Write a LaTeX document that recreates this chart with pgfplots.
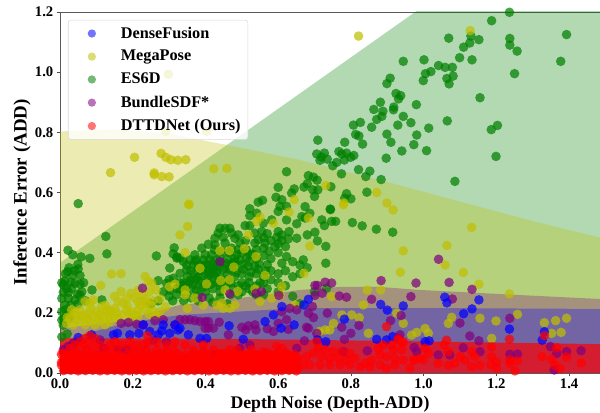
\documentclass[border=0pt]{standalone}
\usepackage{fontspec}
\setmainfont{Liberation Serif}
\usepackage{pgfplots}
\pgfplotsset{compat=1.18}
\definecolor{cG}{HTML}{008000}
\definecolor{cY}{HTML}{BFBF00}
\definecolor{cP}{HTML}{800080}
\definecolor{cB}{HTML}{0000FF}
\definecolor{cR}{HTML}{FF0000}
\pgfplotsset{
 pts/.style={only marks,mark=*,mark size=3.6pt,mark options={draw opacity=0,fill=#1,fill opacity=0.72},forget plot},
 band/.style={draw=none,fill=#1,forget plot},
 leg/.style={only marks,mark=*,mark size=3.1pt,mark options={draw opacity=0,fill=#1,fill opacity=0.55}},
}
\begin{document}
\begin{tikzpicture}
\path[use as bounding box] (-45pt,-30pt) rectangle (405pt,279.75pt);
\begin{axis}[
 scale only axis,width=405pt,height=270.75pt,
 xmin=0,xmax=1.485,ymin=0,ymax=1.2,
 xtick={0,0.2,0.4,0.6,0.8,1.0,1.2,1.4},
 ytick={0,0.2,0.4,0.6,0.8,1.0,1.2},
 xtick pos=lower,ytick pos=left,tick align=outside,
 major tick length=2.5pt,
 tick style={color=black!70,line width=0.5pt},
 axis line style={color=black!65,line width=0.7pt},
 /pgf/number format/assume math mode=true,
 /pgf/number format/fixed,/pgf/number format/fixed zerofill,/pgf/number format/precision=1,
 tick label style={font=\fontsize{11}{13}\selectfont\bfseries},
 xticklabel style={yshift=1.5pt},
 yticklabel style={xshift=1pt},
 xlabel={Depth Noise (Depth-ADD)},
 ylabel={Inference Error (ADD)},
 xlabel style={font=\fontsize{13.3}{15}\selectfont\bfseries,at={(0.5,0)},anchor=north,yshift=-14pt},
 ylabel style={font=\fontsize{14.2}{16}\selectfont\bfseries,at={(0,0.5)},anchor=south,yshift=18.5pt},
 legend cell align=left,
 legend image code/.code={\path (0pt,0pt) (28pt,0pt);\draw[mark repeat=2,mark phase=2,#1] plot coordinates {(0pt,0pt)(14pt,0pt)(28pt,0pt)};},
 legend style={at={(0.0148,0.978)},anchor=north west,
   font=\fontsize{12.2}{14}\selectfont\bfseries,
   draw=black!15,rounded corners=2pt,fill=white,fill opacity=0.8,text opacity=1,draw opacity=1,
   row sep=3.6pt,inner xsep=3.5pt,inner ysep=3pt,
   /tikz/every odd column/.append style={column sep=5.5pt}},
]
\addlegendimage{leg=cB}\addlegendentry{DenseFusion}
\addlegendimage{leg=cY}\addlegendentry{MegaPose}
\addlegendimage{leg=cG}\addlegendentry{ES6D}
\addlegendimage{leg=cP}\addlegendentry{BundleSDF*}
\addlegendimage{leg=cR}\addlegendentry{DTTDNet (Ours)}

% ES6D band
\addplot[band=cG,fill opacity=0.3] coordinates {(0,0) (0,0.366) (1.485,1.634) (1.485,0)} -- cycle;
% ES6D
\addplot[pts=cG] coordinates {
(1.236,1.199)(1.187,1.171)(1.393,1.125)(1.069,1.113)(1.130,1.120)(1.152,1.108)(1.127,1.097)(1.110,1.083)(1.237,1.112)(1.237,1.090)(1.257,1.070)(1.377,1.036)(1.133,1.041)(1.099,1.048)(1.001,1.041)(0.944,1.036)(1.250,0.995)(1.041,1.022)(1.059,1.016)(1.079,1.016)(1.020,1.002)(1.005,0.995)(0.999,0.972)(1.064,0.979)(1.081,0.987)(1.070,0.961)(0.908,0.980)(0.899,0.962)(1.155,0.915)(0.924,0.929)(0.937,0.922)(0.931,0.911)(0.881,0.900)(0.863,0.876)(0.888,0.870)(0.918,0.884)(0.917,0.875)(0.980,0.892)(0.885,0.853)(0.871,0.843)(0.944,0.853)(0.965,0.832)(0.929,0.824)(1.065,0.838)(1.014,0.814)(1.203,0.823)(1.186,0.809)(0.826,0.833)(0.807,0.824)(0.857,0.817)(0.813,0.793)(0.822,0.788)(0.899,0.794)(0.981,0.791)(0.709,0.774)(0.783,0.767)(0.832,0.761)(0.910,0.767)(0.973,0.759)(0.767,0.736)(0.706,0.728)(0.727,0.731)(0.775,0.728)(0.788,0.731)(0.808,0.723)(0.799,0.717)(0.940,0.738)(1.008,0.739)(0.897,0.714)(1.199,0.720)(0.719,0.718)(0.715,0.707)(0.735,0.711)(0.782,0.708)(0.761,0.700)(0.750,0.689)(0.821,0.676)(0.852,0.671)(0.841,0.653)(0.883,0.643)(1.086,0.637)(0.774,0.662)(0.745,0.619)(0.683,0.656)(0.697,0.651)(0.707,0.641)(0.680,0.629)(0.671,0.618)(0.695,0.609)(0.709,0.609)(0.700,0.587)(0.788,0.596)(0.783,0.581)(0.800,0.579)(0.844,0.601)(0.743,0.545)(0.674,0.553)
(0.744,0.543)(0.720,0.509)(0.727,0.490)(0.747,0.504)(0.758,0.504)(0.804,0.500)(0.831,0.489)(0.870,0.478)(0.915,0.468)(0.701,0.468)(0.680,0.459)(0.708,0.439)(0.731,0.421)(0.731,0.365)(0.669,0.376)(0.660,0.359)(0.687,0.531)(0.674,0.515)(0.665,0.520)
(0.623,0.669)(0.600,0.617)(0.644,0.612)(0.637,0.598)(0.594,0.584)(0.610,0.576)(0.545,0.568)(0.557,0.574)(0.522,0.546)(0.605,0.554)(0.623,0.554)(0.600,0.537)(0.522,0.523)(0.541,0.531)(0.582,0.509)(0.623,0.509)(0.651,0.496)(0.509,0.490)(0.522,0.490)(0.559,0.498)(0.440,0.481)(0.467,0.481)(0.454,0.481)(0.435,0.465)(0.472,0.465)(0.490,0.459)(0.536,0.465)(0.555,0.470)(0.570,0.463)(0.600,0.470)(0.610,0.459)(0.596,0.451)(0.628,0.446)(0.651,0.448)(0.426,0.448)(0.449,0.451)(0.481,0.448)(0.545,0.443)(0.564,0.432)(0.408,0.428)(0.426,0.426)(0.454,0.432)(0.495,0.432)(0.536,0.432)(0.591,0.420)(0.390,0.415)(0.472,0.415)(0.513,0.409)(0.522,0.393)(0.513,0.382)(0.623,0.387)(0.371,0.393)(0.399,0.393)(0.417,0.393)(0.440,0.387)(0.486,0.393)(0.357,0.376)(0.376,0.376)(0.394,0.376)(0.412,0.376)(0.431,0.376)(0.348,0.359)(0.367,0.359)(0.385,0.359)(0.408,0.359)(0.463,0.359)(0.481,0.370)(0.518,0.354)(0.548,0.363)(0.536,0.354)(0.330,0.382)(0.422,0.348)
(0.022,0.408)(0.035,0.393)(0.058,0.386)(0.082,0.381)(0.126,0.454)(0.129,0.396)(0.049,0.361)(0.050,0.346)(0.025,0.350)(0.021,0.337)(0.055,0.324)(0.014,0.306)(0.030,0.302)(0.041,0.298)(0.055,0.295)(0.009,0.293)(0.018,0.281)(0.032,0.281)(0.009,0.268)(0.023,0.268)(0.048,0.262)(0.055,0.259)(0.088,0.276)(0.115,0.243)(0.005,0.248)(0.023,0.248)(0.041,0.243)(0.014,0.226)(0.005,0.204)(0.018,0.187)(0.005,0.176)(0.027,0.182)(0.009,0.159)(0.050,0.563)
(0.265,0.389)(0.314,0.416)(0.311,0.396)(0.322,0.386)(0.270,0.307)(0.321,0.382)(0.339,0.371)(0.302,0.349)(0.293,0.298)(0.312,0.315)(0.330,0.331)(0.348,0.343)(0.371,0.371)(0.284,0.270)(0.302,0.276)(0.321,0.281)(0.339,0.293)(0.357,0.304)(0.376,0.315)(0.394,0.352)
(0.300,0.255)(0.320,0.260)(0.340,0.270)(0.360,0.280)(0.380,0.290)(0.400,0.300)(0.420,0.310)(0.440,0.320)(0.460,0.330)(0.330,0.300)(0.350,0.320)(0.370,0.330)(0.390,0.340)(0.410,0.330)(0.430,0.335)(0.450,0.345)(0.480,0.350)(0.500,0.330)(0.520,0.320)(0.540,0.330)(0.560,0.320)(0.580,0.340)(0.360,0.250)(0.380,0.260)(0.400,0.270)(0.420,0.280)(0.440,0.290)(0.470,0.300)(0.490,0.290)(0.520,0.280)(0.550,0.300)(0.570,0.280)(0.600,0.300)(0.620,0.290)(0.600,0.330)(0.640,0.320)(0.410,0.250)(0.440,0.250)(0.470,0.260)(0.500,0.270)(0.300,0.310)(0.270,0.240)(0.250,0.230)(0.420,0.235)(0.460,0.230)
(0.600,0.270)(0.640,0.255)(0.660,0.230)(0.700,0.270)(0.733,0.282)(0.020,0.130)(0.005,0.120)
(0.340,0.300)(0.360,0.310)(0.380,0.320)(0.400,0.330)(0.420,0.340)(0.440,0.350)(0.460,0.310)(0.480,0.320)(0.500,0.300)(0.520,0.300)(0.540,0.290)(0.560,0.300)(0.360,0.340)(0.380,0.350)(0.400,0.360)(0.420,0.365)(0.440,0.370)(0.460,0.380)(0.480,0.380)(0.500,0.360)(0.540,0.380)(0.560,0.390)(0.580,0.380)(0.600,0.400)(0.570,0.360)(0.610,0.365)(0.640,0.370)(0.500,0.400)(0.540,0.410)(0.580,0.440)(0.620,0.420)(0.330,0.280)(0.310,0.240)(0.340,0.240)(0.380,0.240)(0.440,0.270)(0.490,0.260)(0.540,0.260)(0.560,0.260)(0.580,0.310)(0.620,0.340)(0.660,0.330)(0.680,0.350)
(0.005,0.300)(0.015,0.330)(0.035,0.325)(0.040,0.340)(0.065,0.300)(0.060,0.270)(0.070,0.240)(0.015,0.210)(0.030,0.225)(0.050,0.230)(0.010,0.180)(0.025,0.200)
(0.345,0.285)(0.365,0.295)(0.385,0.305)(0.405,0.315)(0.425,0.325)(0.445,0.305)(0.465,0.345)(0.485,0.335)(0.505,0.345)(0.525,0.335)(0.545,0.345)(0.565,0.340)(0.375,0.275)(0.395,0.285)(0.415,0.295)(0.435,0.300)(0.455,0.290)(0.475,0.280)(0.510,0.290)(0.530,0.270)(0.410,0.345)(0.430,0.355)(0.455,0.365)(0.475,0.365)(0.495,0.375)(0.520,0.370)(0.530,0.395)(0.490,0.410)(0.465,0.400)(0.445,0.405)(0.425,0.410)(0.560,0.415)(0.575,0.405)(0.600,0.430)(0.610,0.440)(0.630,0.470)(0.560,0.450)(0.510,0.440)
};
% MegaPose band
\addplot[band=cY,fill opacity=0.3] coordinates {(0,0) (0,0.803) (0.15,0.81) (0.3,0.795) (0.45,0.76) (0.66,0.708) (0.9,0.635) (1.13,0.56) (1.3,0.505) (1.485,0.45) (1.485,0)} -- cycle;
% MegaPose
\addplot[pts=cY] coordinates {
(0.298,0.993)(0.291,0.803)(0.403,0.803)(0.205,0.717)(0.278,0.730)(0.291,0.717)(0.305,0.709)(0.324,0.707)(0.346,0.709)(0.139,0.666)(0.259,0.665)(0.259,0.659)(0.280,0.653)(0.300,0.652)(0.423,0.679)(0.459,0.680)(0.354,0.561)(0.644,0.576)(0.821,1.120)(1.128,1.138)(0.731,0.623)(0.871,0.600)(0.781,0.565)(0.899,0.565)(0.916,0.542)
(1.132,0.484)(1.064,0.424)(0.944,0.406)(0.687,0.422)(0.671,0.331)(1.059,0.359)(0.936,0.335)(1.109,0.334)(1.152,0.295)(0.683,0.515)(0.779,0.559)
(0.355,0.560)(0.351,0.487)(0.630,0.535)(0.550,0.518)(0.541,0.504)(0.587,0.498)(0.518,0.459)(0.507,0.413)(0.440,0.407)(0.466,0.407)(0.539,0.387)(0.344,0.400)(0.385,0.348)(0.478,0.352)(0.330,0.459)
(0.344,0.276)(0.344,0.260)(0.371,0.249)(0.403,0.296)(0.442,0.307)(0.466,0.310)(0.454,0.276)(0.488,0.271)(0.564,0.324)(0.610,0.288)(0.536,0.279)
(0.350,0.215)(0.394,0.226)(0.431,0.226)(0.445,0.232)(0.449,0.215)(0.481,0.226)(0.550,0.238)(0.467,0.215)(0.646,0.226)(0.582,0.249)(0.605,0.260)
(0.142,0.329)(0.168,0.330)(0.112,0.291)(0.168,0.271)(0.234,0.321)(0.243,0.304)(0.252,0.299)(0.264,0.276)(0.316,0.295)(0.301,0.287)(0.275,0.246)(0.213,0.238)(0.225,0.238)(0.238,0.232)(0.215,0.210)(0.197,0.204)(0.183,0.249)(0.174,0.232)(0.160,0.238)(0.151,0.215)(0.142,0.204)(0.128,0.204)(0.115,0.221)(0.101,0.204)(0.092,0.243)(0.082,0.232)(0.069,0.238)(0.055,0.210)(0.032,0.210)(0.046,0.193)(0.027,0.182)(0.069,0.193)(0.092,0.188)(0.119,0.188)(0.147,0.188)(0.170,0.193)(0.055,0.171)(0.082,0.171)(0.110,0.171)(0.137,0.171)(0.183,0.210)(0.206,0.193)(0.234,0.210)(0.257,0.204)(0.275,0.204)(0.037,0.160)(0.069,0.160)(0.096,0.160)(0.124,0.160)(0.018,0.165)
(0.775,0.193)(0.802,0.193)(0.823,0.184)(0.752,0.165)(0.729,0.143)(0.742,0.143)(0.713,0.138)(0.848,0.132)(0.926,0.199)(0.944,0.165)(0.834,0.226)(0.747,0.254)(0.845,0.276)(0.882,0.276)
(1.077,0.185)(1.068,0.165)(1.155,0.182)(1.199,0.173)(1.258,0.195)(1.332,0.167)(1.363,0.174)(1.393,0.182)(1.378,0.135)(1.352,0.132)(1.187,0.115)(1.004,0.148)(1.013,0.132)(0.981,0.135)(0.967,0.126)(1.236,0.263)
(0.045,0.175)(0.075,0.180)(0.105,0.180)(0.135,0.185)(0.160,0.180)(0.195,0.180)(0.220,0.225)(0.250,0.225)(0.085,0.215)(0.125,0.225)(0.150,0.255)(0.195,0.265)(0.215,0.275)(0.245,0.270)
(0.020,0.185)(0.040,0.200)(0.060,0.190)(0.080,0.200)(0.110,0.195)(0.135,0.210)(0.155,0.200)(0.190,0.195)(0.215,0.190)(0.245,0.195)(0.265,0.190)(0.225,0.260)(0.205,0.250)(0.185,0.225)(0.235,0.245)(0.255,0.240)(0.290,0.220)
};
% BundleSDF band
\addplot[band=cP,fill opacity=0.3] coordinates {(0,0) (0,0.148) (0.156,0.171) (0.33,0.226) (0.42,0.237) (0.66,0.276) (0.77,0.286) (0.88,0.286) (0.99,0.276) (1.25,0.26) (1.485,0.246) (1.485,0)} -- cycle;
% BundleSDF
\addplot[pts=cP] coordinates {
(0.227,0.282)(0.440,0.370)(0.391,0.251)(0.467,0.263)(0.539,0.265)(0.554,0.271)(0.602,0.258)
(0.701,0.291)(0.708,0.291)(0.729,0.302)(0.747,0.299)(0.721,0.265)(0.701,0.258)(0.768,0.256)(0.788,0.252)(0.883,0.307)(0.979,0.299)(0.857,0.245)(0.965,0.254)(0.694,0.221)(0.683,0.199)(0.697,0.184)(0.735,0.199)(0.683,0.149)(0.678,0.152)(0.706,0.132)(0.775,0.152)(0.822,0.158)(0.800,0.132)(0.782,0.112)(0.672,0.107)(0.909,0.174)(0.938,0.191)(0.935,0.127)
(1.041,0.378)(1.070,0.301)(1.133,0.278)(1.079,0.246)(1.237,0.182)(1.100,0.166)(1.127,0.123)(1.152,0.107)(1.349,0.088)(1.366,0.065)(1.393,0.071)(1.433,0.074)(1.237,0.062)(1.258,0.063)(1.109,0.084)(1.155,0.071)(1.040,0.060)(1.072,0.060)(0.974,0.085)(0.981,0.071)(0.845,0.074)(0.779,0.071)(1.359,0.010)
(0.330,0.177)(0.344,0.177)(0.357,0.177)(0.371,0.174)(0.385,0.171)(0.399,0.171)(0.408,0.171)(0.422,0.149)(0.438,0.169)(0.408,0.149)(0.399,0.149)(0.463,0.127)(0.500,0.152)(0.518,0.157)(0.536,0.160)(0.539,0.143)(0.511,0.143)(0.570,0.147)(0.587,0.138)(0.600,0.165)(0.632,0.215)(0.651,0.210)(0.623,0.177)(0.628,0.145)(0.651,0.082)(0.610,0.204)(0.422,0.060)(0.495,0.082)(0.522,0.093)
(0.168,0.165)(0.188,0.168)(0.211,0.162)(0.261,0.174)(0.284,0.177)(0.229,0.160)(0.316,0.160)(0.009,0.077)(0.023,0.088)(0.037,0.099)(0.110,0.110)(0.119,0.082)(0.160,0.077)(0.183,0.077)(0.257,0.110)(0.293,0.104)
};
% DenseFusion band
\addplot[band=cB,fill opacity=0.3] coordinates {(0,0) (0,0.09) (0.037,0.116) (0.1,0.14) (0.183,0.166) (0.33,0.193) (0.66,0.216) (0.99,0.216) (1.485,0.213) (1.485,0)} -- cycle;
% DenseFusion
\addplot[pts=cB] coordinates {
(0.050,0.118)(0.087,0.127)(0.158,0.132)(0.147,0.127)(0.192,0.127)(0.217,0.132)(0.229,0.160)(0.247,0.138)(0.280,0.140)(0.270,0.127)(0.302,0.132)(0.325,0.143)(0.284,0.160)(0.316,0.160)
(0.330,0.149)(0.353,0.127)(0.385,0.115)(0.403,0.115)(0.465,0.157)(0.504,0.112)(0.564,0.171)(0.587,0.193)(0.610,0.221)(0.608,0.149)(0.644,0.160)
(0.671,0.226)(0.683,0.245)(0.782,0.179)(0.708,0.110)(0.731,0.104)(0.882,0.228)(0.900,0.209)(0.944,0.223)(0.871,0.112)(0.898,0.110)(0.915,0.121)(0.930,0.115)
(1.058,0.252)(1.064,0.233)(1.152,0.243)(1.133,0.213)(1.110,0.197)(1.236,0.146)(1.332,0.137)(1.326,0.109)(1.004,0.104)(1.015,0.107)
};
% DTTDNet band
\addplot[band=cR,fill opacity=0.7] coordinates {(0,0) (0,0.116) (0.5,0.113) (1.0,0.105) (1.485,0.096) (1.485,0)} -- cycle;
% DTTDNet
\addplot[pts=cR] coordinates {
(0.069,0.115)(0.082,0.124)(0.096,0.115)(0.055,0.104)(0.110,0.093)(0.041,0.093)(0.027,0.082)(0.137,0.093)(0.151,0.104)(0.192,0.104)(0.211,0.093)(0.240,0.124)(0.243,0.104)(0.266,0.104)(0.293,0.093)(0.316,0.104)(0.170,0.093)(0.229,0.093)(0.192,0.082)(0.087,0.093)(0.064,0.093)(0.128,0.077)(0.156,0.077)(0.266,0.077)(0.312,0.077)(0.009,0.066)(0.046,0.071)(0.073,0.077)(0.101,0.071)(0.211,0.077)(0.238,0.077)(0.293,0.071)
(0.344,0.093)(0.367,0.077)(0.394,0.093)(0.422,0.077)(0.454,0.066)(0.467,0.077)(0.495,0.060)(0.527,0.077)(0.541,0.060)(0.573,0.066)(0.596,0.088)(0.610,0.082)(0.600,0.066)(0.623,0.066)(0.646,0.054)(0.394,0.071)(0.440,0.066)(0.559,0.071)(0.486,0.077)
(0.898,0.154)(0.706,0.104)(0.710,0.082)(0.729,0.077)(0.752,0.071)(0.775,0.071)(0.797,0.066)(0.875,0.082)(0.889,0.093)(0.912,0.093)(0.930,0.115)(0.944,0.104)(0.917,0.077)(0.940,0.077)(0.678,0.054)(0.697,0.066)(0.720,0.054)(0.742,0.049)(0.765,0.049)(0.788,0.043)(0.811,0.049)(0.839,0.032)(0.857,0.043)(0.880,0.060)(0.898,0.054)(0.921,0.049)(0.944,0.043)(0.972,0.043)(0.990,0.049)(0.962,0.016)(0.898,0.016)(0.687,0.027)(0.715,0.027)(0.742,0.027)(0.770,0.027)(0.797,0.027)(0.825,0.021)(0.852,0.021)(0.880,0.027)(0.921,0.027)(0.669,0.027)
(1.004,0.082)(1.013,0.065)(0.976,0.043)(0.999,0.043)(1.040,0.032)(1.063,0.109)(1.056,0.093)(1.068,0.071)(1.068,0.026)(1.086,0.032)(1.100,0.054)(1.114,0.043)(1.132,0.071)(1.141,0.054)(1.132,0.021)(1.155,0.026)(1.187,0.087)(1.187,0.054)(1.201,0.037)(1.184,0.028)(1.201,0.015)(1.236,0.112)(1.237,0.043)(1.237,0.032)(1.258,0.040)(1.251,0.007)(1.332,0.124)(1.366,0.084)(1.326,0.054)(1.352,0.046)(1.393,0.053)(1.433,0.033)(1.361,0.026)(1.375,0.015)(0.930,0.109)(0.940,0.102)
(0.004,0.062)(0.024,0.060)(0.044,0.064)(0.064,0.061)(0.084,0.063)(0.104,0.060)(0.124,0.064)(0.144,0.062)(0.164,0.060)(0.184,0.063)(0.204,0.061)(0.224,0.064)(0.244,0.060)(0.264,0.062)(0.284,0.063)(0.304,0.060)(0.324,0.064)(0.344,0.061)(0.364,0.062)(0.384,0.060)(0.404,0.063)(0.424,0.061)(0.444,0.060)(0.464,0.062)(0.484,0.060)(0.504,0.063)(0.524,0.061)(0.544,0.060)(0.564,0.062)(0.584,0.060)(0.604,0.063)(0.624,0.060)(0.644,0.061)
(0.014,0.052)(0.034,0.053)(0.054,0.051)(0.074,0.052)(0.094,0.053)(0.114,0.051)(0.134,0.052)(0.154,0.053)(0.174,0.051)(0.194,0.052)(0.214,0.053)(0.234,0.051)(0.254,0.052)(0.274,0.053)(0.294,0.051)(0.314,0.052)(0.334,0.053)(0.354,0.051)(0.374,0.052)(0.394,0.053)(0.414,0.051)(0.434,0.052)(0.454,0.053)(0.474,0.051)(0.494,0.052)(0.514,0.053)(0.534,0.051)(0.554,0.052)(0.574,0.053)(0.594,0.051)(0.614,0.052)(0.634,0.053)(0.654,0.051)
(0.010,0.044)(0.030,0.042)(0.050,0.045)(0.070,0.043)(0.090,0.044)(0.110,0.042)(0.130,0.045)(0.150,0.043)(0.170,0.044)(0.190,0.042)(0.210,0.045)(0.230,0.043)(0.250,0.044)(0.270,0.042)(0.290,0.045)(0.310,0.043)(0.330,0.044)(0.350,0.042)(0.370,0.045)(0.390,0.043)(0.410,0.044)(0.430,0.042)(0.450,0.045)(0.470,0.043)(0.490,0.044)(0.510,0.042)(0.530,0.045)(0.550,0.043)(0.570,0.044)(0.590,0.042)(0.610,0.045)(0.630,0.043)(0.650,0.044)
(0.004,0.035)(0.024,0.034)(0.044,0.036)(0.064,0.033)(0.084,0.035)(0.104,0.034)(0.124,0.036)(0.144,0.033)(0.164,0.035)(0.184,0.034)(0.204,0.036)(0.224,0.033)(0.244,0.035)(0.264,0.034)(0.284,0.036)(0.304,0.033)(0.324,0.035)(0.344,0.034)(0.364,0.036)(0.384,0.033)(0.404,0.035)(0.424,0.034)(0.444,0.036)(0.464,0.033)(0.484,0.035)(0.504,0.034)(0.524,0.036)(0.544,0.033)(0.564,0.035)(0.584,0.034)(0.604,0.036)(0.624,0.033)(0.644,0.035)
(0.004,0.026)(0.024,0.025)(0.044,0.027)(0.064,0.024)(0.084,0.026)(0.104,0.025)(0.124,0.027)(0.144,0.024)(0.164,0.026)(0.184,0.025)(0.204,0.027)(0.224,0.024)(0.244,0.026)(0.264,0.025)(0.284,0.027)(0.304,0.024)(0.324,0.026)(0.344,0.025)(0.364,0.027)(0.384,0.024)(0.404,0.026)(0.424,0.025)(0.444,0.027)(0.464,0.024)(0.484,0.026)(0.504,0.025)(0.524,0.027)(0.544,0.024)(0.564,0.026)(0.584,0.025)(0.604,0.027)(0.624,0.024)(0.644,0.026)
(0.014,0.017)(0.034,0.016)(0.054,0.018)(0.074,0.017)(0.094,0.016)(0.114,0.018)(0.134,0.017)(0.154,0.016)(0.174,0.018)(0.194,0.017)(0.214,0.016)(0.234,0.018)(0.254,0.017)(0.274,0.016)(0.294,0.018)(0.314,0.017)(0.334,0.016)(0.354,0.018)(0.374,0.017)(0.394,0.016)(0.414,0.018)(0.434,0.017)(0.454,0.016)(0.474,0.018)(0.494,0.017)(0.514,0.016)(0.534,0.018)(0.554,0.017)(0.574,0.016)(0.594,0.018)(0.614,0.017)(0.634,0.016)(0.654,0.018)
(0.010,0.008)(0.030,0.009)(0.050,0.007)(0.070,0.008)(0.090,0.009)(0.110,0.007)(0.130,0.008)(0.150,0.009)(0.170,0.007)(0.190,0.008)(0.210,0.009)(0.230,0.007)(0.250,0.008)(0.270,0.009)(0.290,0.007)(0.310,0.008)(0.330,0.009)(0.350,0.007)(0.370,0.008)(0.390,0.009)(0.410,0.007)(0.430,0.008)(0.450,0.009)(0.470,0.007)(0.490,0.008)(0.510,0.009)(0.530,0.007)(0.550,0.008)(0.570,0.009)(0.590,0.007)(0.610,0.008)(0.630,0.009)(0.650,0.007)
};
\end{axis}
\end{tikzpicture}
\end{document}
